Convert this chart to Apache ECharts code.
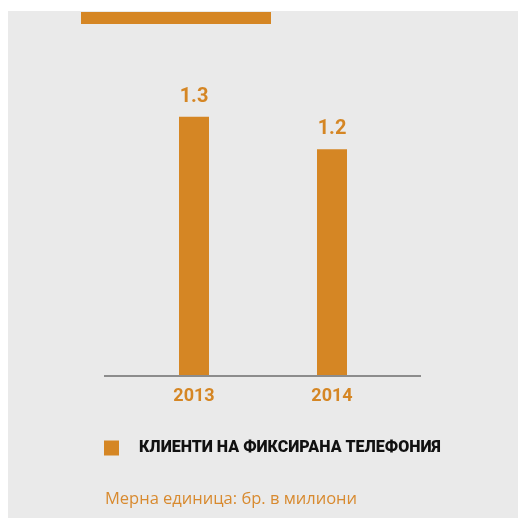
<!DOCTYPE html>
<html><head><meta charset="utf-8">
<script src="https://cdn.jsdelivr.net/npm/echarts@6/dist/echarts.min.js"></script>
<style>html,body{margin:0;padding:0;background:#fff}#c{width:518px;height:518px}</style>
</head><body><div id="c"></div>
<script>
const categories = ['2013', '2014'];
const values = [1.3, 1.2];
const seriesName = 'КЛИЕНТИ НА ФИКСИРАНА ТЕЛЕФОНИЯ';
const unitNote = 'Мерна единица: бр. в милиони';

const orange = '#D58624';
const condensed = 'Roboto, "DejaVu Sans Condensed", sans-serif';
const chart = echarts.init(document.getElementById('c'), null, {renderer: 'canvas'});
chart.setOption({
  backgroundColor: '#fff',
  animation: false,
  graphic: [
    {type: 'rect', z: -10, shape: {x: 8, y: 11, width: 510, height: 507}, style: {fill: '#EAEAEA'}},
    {type: 'rect', shape: {x: 81, y: 12, width: 190, height: 12}, style: {fill: orange}},
    {type: 'line', z: 10, shape: {x1: 104, y1: 376, x2: 421, y2: 376}, style: {stroke: '#8C8C8C', lineWidth: 2}}
  ],
  title: {
    text: unitNote, left: 100, top: 486,
    textStyle: {color: '#D88A2F', fontSize: 16.5, fontWeight: 'normal', fontFamily: '"Open Sans", sans-serif'}
  },
  legend: {
    data: [seriesName], left: 104, top: 440, padding: 0, icon: 'rect', itemWidth: 15, itemHeight: 15,
    textStyle: {color: '#111', fontSize: 16, fontWeight: 900, fontFamily: condensed, padding: [0, 0, 0, 15]}
  },
  grid: {left: 125, right: 117, top: 52, bottom: 142},
  xAxis: {
    type: 'category', data: categories,
    axisLine: {show: false}, axisTick: {show: false},
    axisLabel: {color: orange, fontSize: 18, fontWeight: 'bold', fontFamily: condensed, margin: 11}
  },
  yAxis: {type: 'value', min: 0.5, max: 1.5, show: false, splitLine: {show: false}},
  series: [{
    name: seriesName, type: 'bar', data: values, barWidth: 30,
    itemStyle: {color: orange},
    label: {show: true, position: 'top', distance: 10, color: orange, fontSize: 20, fontWeight: 'bold', fontFamily: condensed,
      formatter: p => p.value.toFixed(1)}
  }]
});
</script></body></html>
